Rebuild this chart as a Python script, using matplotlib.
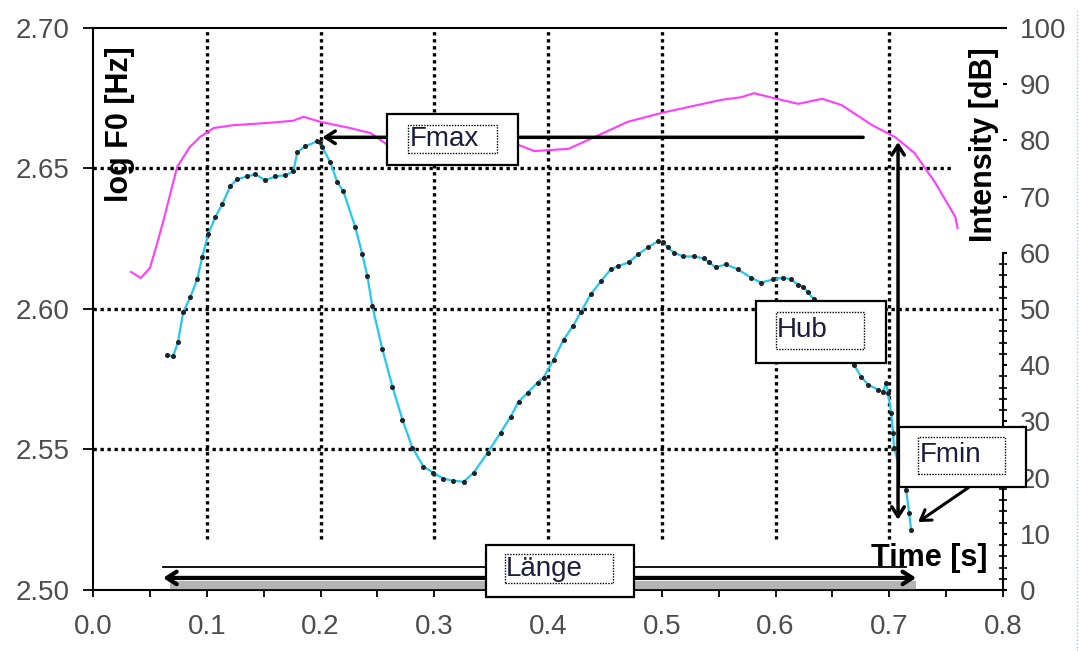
import matplotlib
matplotlib.use("Agg")
import matplotlib.pyplot as plt
import numpy as np
from matplotlib.patches import Rectangle
from matplotlib.lines import Line2D
from matplotlib.ticker import FixedLocator, FormatStrFormatter

plt.rcParams["font.family"] = ["Liberation Sans", "DejaVu Sans"]

# F0 contour (log Hz) over time (s)
f0_time = [
    0.0651, 0.0704, 0.0748, 0.0792, 0.0854, 0.0915, 0.0960, 0.1012, 0.1074, 0.1136,
    0.1206, 0.1268, 0.1356, 0.1426, 0.1514, 0.1602, 0.1690, 0.1761, 0.1796, 0.1866,
    0.1972, 0.1998, 0.2016, 0.2086, 0.2148, 0.2201, 0.2306, 0.2368, 0.2412, 0.2456,
    0.2544, 0.2632, 0.2720, 0.2808, 0.2905, 0.2993, 0.3081, 0.3169, 0.3257, 0.3345,
    0.3468, 0.3583, 0.3671, 0.3741, 0.3820, 0.3908, 0.3961, 0.4049, 0.4137, 0.4217,
    0.4287, 0.4375, 0.4463, 0.4551, 0.4613, 0.4710, 0.4789, 0.4877, 0.4965, 0.5009,
    0.5053, 0.5106, 0.5185, 0.5282, 0.5370, 0.5414, 0.5475, 0.5563, 0.5669, 0.5783,
    0.5871, 0.5977, 0.6065, 0.6136, 0.6197, 0.6241, 0.6285, 0.6338, 0.6444, 0.6576,
    0.6690, 0.6752, 0.6813, 0.6901, 0.6945, 0.6972, 0.6989, 0.7016, 0.7033, 0.7042,
    0.7095, 0.7148, 0.7174, 0.7192,
]
f0_log = [
    2.5838, 2.5831, 2.5884, 2.5988, 2.6041, 2.6105, 2.6184, 2.6266, 2.6326, 2.6373,
    2.6437, 2.6462, 2.6472, 2.6480, 2.6458, 2.6472, 2.6476, 2.6490, 2.6558, 2.6579,
    2.6597, 2.6594, 2.6576, 2.6522, 2.6451, 2.6419, 2.6291, 2.6194, 2.6116, 2.6009,
    2.5856, 2.5724, 2.5606, 2.5506, 2.5439, 2.5417, 2.5396, 2.5389, 2.5385, 2.5417,
    2.5488, 2.5560, 2.5617, 2.5670, 2.5702, 2.5738, 2.5756, 2.5820, 2.5891, 2.5938,
    2.5988, 2.6052, 2.6098, 2.6141, 2.6152, 2.6166, 2.6194, 2.6219, 2.6241, 2.6237,
    2.6219, 2.6201, 2.6187, 2.6187, 2.6180, 2.6166, 2.6148, 2.6159, 2.6141, 2.6112,
    2.6094, 2.6105, 2.6112, 2.6105, 2.6087, 2.6080, 2.6059, 2.6034, 2.5970, 2.5873,
    2.5802, 2.5759, 2.5731, 2.5713, 2.5706, 2.5738, 2.5702, 2.5631, 2.5560, 2.5506,
    2.5428, 2.5357, 2.5275, 2.5214,
]

# intensity contour (dB) over time (s)
int_time = [
    0.0335, 0.042, 0.050, 0.056, 0.062, 0.074, 0.085, 0.094, 0.106, 0.123,
    0.153, 0.176, 0.185, 0.200, 0.226, 0.244, 0.259, 0.285, 0.315, 0.345,
    0.374, 0.388, 0.418, 0.441, 0.470, 0.500, 0.552, 0.570, 0.581, 0.599,
    0.620, 0.641, 0.658, 0.685, 0.705, 0.722, 0.740, 0.758, 0.760,
]
int_db = [
    56.6, 55.5, 57.3, 61.4, 65.8, 75.3, 78.8, 80.6, 82.2, 82.7,
    83.1, 83.5, 84.2, 83.3, 82.2, 81.3, 79.2, 78.5, 78.3, 78.6,
    79.2, 78.1, 78.5, 80.6, 83.3, 84.9, 87.2, 87.7, 88.4, 87.5,
    86.5, 87.4, 86.3, 82.7, 80.6, 77.8, 72.6, 66.4, 64.4,
]

x_ticks = [0.0, 0.1, 0.2, 0.3, 0.4, 0.5, 0.6, 0.7, 0.8]
f0_ticks = [2.50, 2.55, 2.60, 2.65, 2.70]
db_ticks = [0, 10, 20, 30, 40, 50, 60, 70, 80, 90, 100]

TICK_COLOR = "#4d4d4d"
TEXT_COLOR = "#1c1c3c"


def label_box(ax, tr, outer, inner, text):
    """White framed box with a dotted text frame, like the Excel callouts."""
    x0, x1, y0, y1 = outer
    ax.add_patch(Rectangle((x0, y0), x1 - x0, y1 - y0, transform=tr,
                           facecolor="white", edgecolor="black", lw=1.6,
                           clip_on=False, zorder=10))
    ix0, ix1, iy0, iy1 = inner
    ax.add_patch(Rectangle((ix0, iy0), ix1 - ix0, iy1 - iy0, transform=tr,
                           facecolor="none", edgecolor="black", lw=1.0,
                           ls=(0, (1, 1)), clip_on=False, zorder=11))
    ax.text(ix0 + 0.001, (iy0 + iy1) / 2, text, transform=tr, ha="left",
            va="center", fontsize=20, color=TEXT_COLOR, clip_on=False, zorder=12)


def arrow(ax, tr, start, end, style="->", lw=2.5):
    ax.annotate("", xy=end, xytext=start, xycoords=tr, textcoords=tr,
                arrowprops=dict(arrowstyle=f"{style},head_length=0.7,head_width=0.45",
                                lw=lw, color="black", shrinkA=0, shrinkB=0),
                annotation_clip=False, zorder=9)


fig = plt.figure(figsize=(10.79, 6.51), dpi=100)
ax = fig.add_axes([0.0862, 0.0937, 0.8434, 0.8633])
ax2 = ax.twinx()

ax.set_xlim(0, 0.8)
ax.set_ylim(2.50, 2.70)
ax2.set_ylim(0, 100)

# dotted grid, shortened like the original
dot = (0, (1, 1.1))
ax.vlines(x_ticks[1:-1], 2.518, 2.70, colors="black", linestyles=[dot], lw=2.4, zorder=1)
ax.hlines([2.65], 0, 0.754, colors="black", linestyles=[dot], lw=2.4, zorder=1)
ax.hlines([2.60, 2.55], 0, 0.796, colors="black", linestyles=[dot], lw=2.4, zorder=1)

ax.plot(f0_time, f0_log, color="#22c8f2", lw=1.6, zorder=3)
ax.plot(f0_time, f0_log, ls="none", marker="o", ms=2.6, color="#222222", zorder=4)
ax2.plot(int_time, int_db, color="#ff3cff", lw=1.5, zorder=3)

# axes styling
for side in ["left", "top", "bottom"]:
    ax.spines[side].set_linewidth(1.5)
ax.spines["right"].set_visible(False)
for side in ["left", "top", "bottom"]:
    ax2.spines[side].set_visible(False)
ax2.spines["right"].set_linewidth(1.5)
ax2.spines["right"].set_bounds(0, 60)

ax.set_xticks(x_ticks)
ax.xaxis.set_major_formatter(FormatStrFormatter("%.1f"))
ax.xaxis.set_minor_locator(FixedLocator(np.arange(0.05, 0.8, 0.1)))
ax.set_yticks(f0_ticks)
ax.yaxis.set_major_formatter(FormatStrFormatter("%.2f"))
ax.tick_params(axis="x", which="both", direction="out", length=5, width=1.3,
               labelsize=20, labelcolor=TICK_COLOR, pad=12)
ax.tick_params(axis="y", which="major", direction="out", length=7, width=1.3,
               labelsize=20, labelcolor=TICK_COLOR, pad=10)

ax2.set_yticks(db_ticks)
ax2.yaxis.set_minor_locator(FixedLocator([v for v in range(2, 60, 2) if v % 10]))
ax2.tick_params(axis="y", which="major", direction="out", length=3, width=1.5,
                labelsize=20, labelcolor=TICK_COLOR, pad=9)
ax2.tick_params(axis="y", which="minor", direction="inout", length=6, width=1.2)

tr = ax.transData
ax2.text(0.0238, 2.6658, "log F0 [Hz]", transform=tr, rotation=90, ha="center",
         va="center", fontsize=22, fontweight="bold", zorder=12)
ax2.text(0.7835, 2.6586, "Intensity [dB]", transform=tr, rotation=90, ha="center",
         va="center", fontsize=22, fontweight="bold", zorder=12,
         bbox=dict(facecolor="white", edgecolor="none", pad=1))
ax2.text(0.735, 2.5114, "Time [s]", transform=tr, ha="center", va="center",
         fontsize=22, fontweight="bold", zorder=12)

# Fmax marker
arrow(ax2, tr, (0.677, 2.6611), (0.2016, 2.6611))
label_box(ax2, tr, (0.2588, 0.3732, 2.6512, 2.6693), (0.2773, 0.3548, 2.6554, 2.6654), "Fmax")

# Hub (range) marker
arrow(ax2, tr, (0.7077, 2.5250), (0.7077, 2.6594), style="<->")
label_box(ax2, tr, (0.5827, 0.6972, 2.5809, 2.6027), (0.6004, 0.6778, 2.5859, 2.5988), "Hub")

# Fmin marker
arrow(ax2, tr, (0.7694, 2.5364), (0.7254, 2.5242), lw=2.2)
label_box(ax2, tr, (0.7086, 0.8204, 2.5367, 2.5581), (0.7254, 0.8019, 2.5414, 2.5545), "Fmin")

# Länge (duration) marker
ax2.plot([0.068, 0.7236], [2.5018, 2.5018], transform=tr, color="#b4b4b4", lw=6,
         solid_capstyle="butt", zorder=8)
ax2.plot([0.0616, 0.715], [2.5082, 2.5082], transform=tr, color="black", lw=1.3,
         zorder=8)
arrow(ax2, tr, (0.0616, 2.5043), (0.7236, 2.5043), style="<->", lw=3)
label_box(ax2, tr, (0.3451, 0.4754, 2.4975, 2.5160), (0.3618, 0.4569, 2.5025, 2.5128), "Länge")

fig.add_artist(Line2D([0.998, 0.998], [0.0, 0.985], transform=fig.transFigure,
                      color="#9ec6e8", ls=(0, (1, 1.5)), lw=1))

fig.savefig("out.png", dpi=100)
